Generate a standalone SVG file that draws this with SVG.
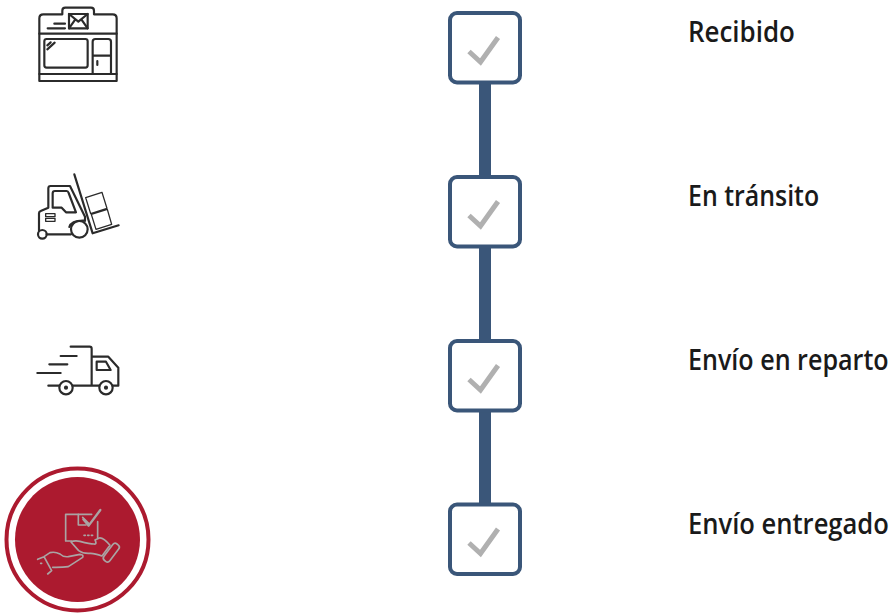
<svg xmlns="http://www.w3.org/2000/svg" width="894" height="615" viewBox="0 0 894 615">
<style>
.box{fill:#fff;stroke:#3a5679;stroke-width:4}
.chk{fill:none;stroke:#b0b0b0;stroke-width:5}
.lbl{font-family:"Open Sans","Liberation Sans",sans-serif;font-weight:600;font-size:28px;fill:#1a1a1a}
.ic{fill:none;stroke:#2b2b2b;stroke-width:6.500;stroke-linejoin:round;stroke-linecap:round}
.ig{fill:none;stroke:#aaa4a4;stroke-width:5;stroke-linejoin:round;stroke-linecap:round}
</style>
<defs>
<g id="tick"><rect class="box" x="450" y="13" width="70" height="69.500" rx="7"/><path class="chk" d="M469 51.500L480.500 62L498 37.500"/></g>
</defs>
<rect width="894" height="615" fill="#fff"/>
<g id="connectors" fill="#3a5679">
<rect x="479" y="82" width="12" height="96"/>
<rect x="479" y="246" width="12" height="96"/>
<rect x="479" y="410" width="12" height="96"/>
</g>
<g id="step-recibido">
<use href="#tick"/>
<g class="ic" transform="translate(20,0) scale(.3333)">
<path d="M58 243V55Q58 43 70 43H127V32Q127 23 136 23H213Q222 23 222 32V43H278Q290 43 290 55V243Z"/>
<path d="M58 101H290M58 222H290"/>
<rect x="73" y="117" width="130" height="86" rx="7"/>
<path d="M218 222V125Q218 117 226 117H265Q273 117 273 125V222M218 167H273M232 183V195"/>
<rect x="147" y="42" width="56" height="43" fill="#fff"/>
<path d="M147 42L175 65L203 42M147 85L166 58M203 85L184 58"/>
<path d="M103 71H135M83 85H135M82 136L92 127M82 148L104 128"/>
</g>
</g>
<g id="step-transito">
<use href="#tick" y="164"/>
<g class="ic" transform="translate(20,165) scale(.3333)">
<path d="M163 28L218 205L296 181"/>
<path d="M197 98L246 82L261 130L212 146ZM214 148L262 133L275 178L228 193Z" stroke-width="4"/>
<path d="M57 197V145Q57 140 62 138L85 128V70Q85 63 92 63H150L195 155V167"/>
<path d="M98 128V85Q98 78 105 78H140Q144 78 146 84L168 142H138L125 128Z"/>
<rect x="77" y="146" width="28" height="9" stroke-width="4"/>
<rect x="77" y="160" width="28" height="9" stroke-width="4"/>
<circle cx="67" cy="208" r="13"/>
<circle cx="178" cy="193" r="25"/>
<path d="M80 208H153M148 186Q155 165 195 167"/>
</g>
</g>
<g id="step-reparto">
<use href="#tick" y="328"/>
<g class="ic" transform="translate(20,335) scale(.3333)">
<path d="M152 35H209Q215 35 215 41V152M122 63H170M88 88H142M52 114H122M85 152H118M158 152H238M278 152H295V98L265 65H215"/>
<path d="M230 80H258L272 105H230Z"/>
<circle cx="138" cy="158" r="20"/>
<circle cx="258" cy="158" r="20"/>
<circle cx="138" cy="158" r="3" fill="#2b2b2b"/>
<circle cx="258" cy="158" r="3" fill="#2b2b2b"/>
</g>
</g>
<g id="step-entregado">
<use href="#tick" y="491.500"/>
<circle cx="77.500" cy="539.500" r="71" fill="none" stroke="#ac1a2f" stroke-width="4"/>
<circle cx="77.500" cy="539.500" r="62.500" fill="#ac1a2f"/>
<g class="ig" transform="translate(0,460) scale(.3333)">
<path d="M275 163H197V243H215M293 185V233"/>
<path d="M235 163V195H258M248 172L266 190"/>
<path d="M250 178L266 197L301 150" stroke-width="7"/>
<path d="M252 226H256M263 226H267M274 226H278"/>
<path d="M213 246Q222 241 240 244Q270 252 282 252Q292 254 285 240L298 234Q310 232 330 256L306 288Q285 280 272 280Q250 282 236 272Z"/>
<rect x="323" y="247" width="22" height="62" rx="9" transform="rotate(37 334 278)"/>
<path d="M113 298L132 290L150 278Q165 274 180 282Q190 292 205 290L240 283Q252 284 248 292L205 320Q190 322 168 322H158M132 290L155 332L143 342M122 310H125"/>
</g>
</g>
<g id="labels">
<text class="lbl" transform="translate(688,42) scale(.93,1)" textLength="115" lengthAdjust="spacingAndGlyphs">Recibido</text>
<text class="lbl" transform="translate(688,206) scale(.93,1)" textLength="141" lengthAdjust="spacingAndGlyphs">En tránsito</text>
<text class="lbl" transform="translate(688,370) scale(.88,1)" textLength="228" lengthAdjust="spacingAndGlyphs">Envío en reparto</text>
<text class="lbl" transform="translate(688,534) scale(.93,1)" textLength="216" lengthAdjust="spacingAndGlyphs">Envío entregado</text>
</g>
</svg>
